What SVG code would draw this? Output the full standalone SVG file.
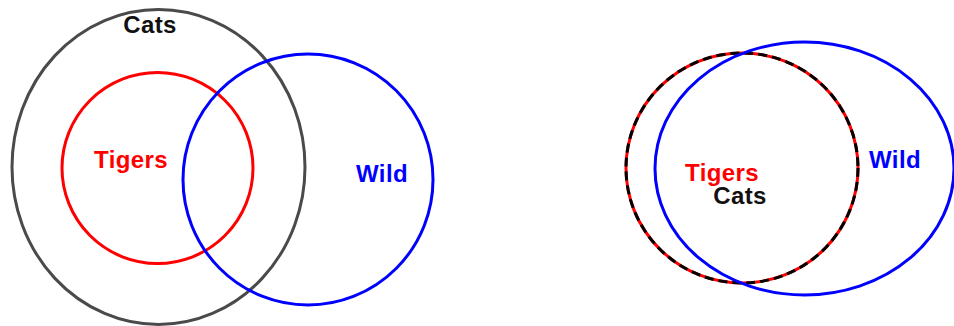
<svg xmlns="http://www.w3.org/2000/svg" width="954" height="326" viewBox="0 0 954 326">
<style>
.set{fill:none;stroke-width:3}
.gray{stroke:#4a4a4a}
.red{stroke:#ff0000}
.blue{stroke:#0000ff}
.blk{stroke:#000000;stroke-dasharray:9 5}
text{font-family:"Liberation Sans",Arial,sans-serif;font-weight:bold;font-size:24px;letter-spacing:0.4px;text-anchor:middle}
.tr{fill:#ff0000}
.tb{fill:#0000ff}
.tk{fill:#111111}
</style>
<rect width="954" height="326" fill="#ffffff"/>
<g id="left-cats">
<ellipse class="set gray" cx="158.5" cy="167" rx="146.5" ry="157.5"/>
<text class="tk" x="150" y="33">Cats</text>
</g>
<g id="left-tigers">
<circle class="set red" cx="157.5" cy="168" r="95.5"/>
<text class="tr" x="131" y="168">Tigers</text>
</g>
<g id="left-wild">
<ellipse class="set blue" cx="308" cy="179.5" rx="125" ry="125.5"/>
<text class="tb" x="382" y="182">Wild</text>
</g>
<g id="right-tigers-cats">
<ellipse class="set red" cx="742" cy="168" rx="116" ry="115"/>
<ellipse class="set blk" cx="742" cy="168" rx="116" ry="115"/>
<text class="tr" x="722" y="181">Tigers</text>
<text class="tk" x="740" y="204">Cats</text>
</g>
<g id="right-wild">
<ellipse class="set blue" cx="804.5" cy="168.5" rx="149.5" ry="126.5"/>
<text class="tb" x="895" y="168">Wild</text>
</g>
<g id="connectors"></g>
</svg>
